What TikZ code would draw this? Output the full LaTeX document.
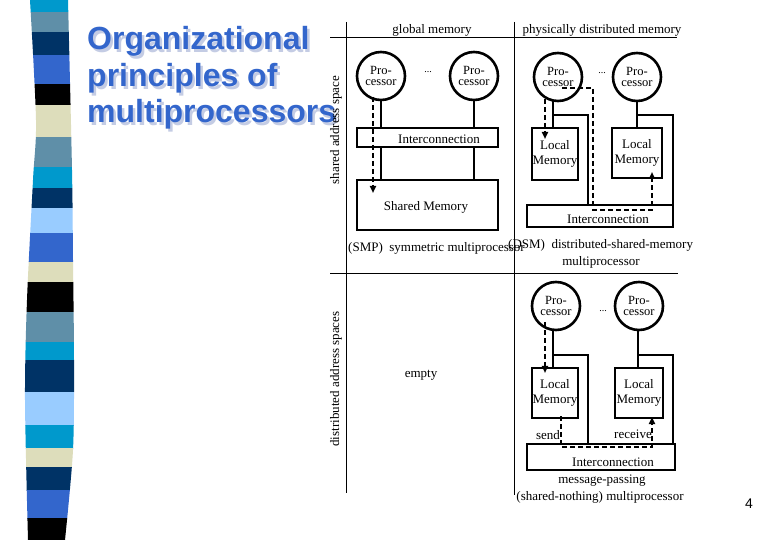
\documentclass[tikz,border=0pt]{standalone}
\usepackage{fontspec}
\setmainfont{Liberation Serif}
\newfontfamily\titlefont{Liberation Sans}
\usetikzlibrary{arrows.meta,calc}
\definecolor{cCyan}{HTML}{0099CC}
\definecolor{cSteel}{HTML}{5F8FA8}
\definecolor{cNavy}{HTML}{003366}
\definecolor{cRoyal}{HTML}{3366CC}
\definecolor{cBeige}{HTML}{DDDDBB}
\definecolor{cLight}{HTML}{99CCFF}
\definecolor{cTitle}{HTML}{3366CC}
\definecolor{cShadow}{HTML}{C4CCE4}
\newcommand\myshadowtext[1]{\makebox[0pt][l]{\hspace{2.5pt}\raisebox{-2.5pt}{\textcolor{cShadow}{#1}}}\textcolor{cTitle}{#1}}
\begin{document}
\begin{tikzpicture}[x=1pt,y=-1pt,font=\fontsize{13}{13}\selectfont,
  proc/.style={circle,draw,fill=white,line width=2.6pt,minimum size=48pt,inner sep=0pt,align=center,font=\fontsize{12.5}{11}\selectfont},
  membox/.style={draw,fill=white,line width=2.6pt,inner sep=0pt,align=center,font=\fontsize{13}{15}\selectfont},
  icbox/.style={draw,fill=white,line width=2.6pt,inner sep=0pt},
  thickl/.style={line width=2.8pt},
  thinl/.style={line width=1.6pt},
  dasharr/.style={line width=1.8pt,dash pattern=on 5pt off 3pt,-{Triangle[length=7pt,width=6pt]}},
  rulel/.style={line width=1pt},
  titletext/.style={anchor=base west,inner sep=0pt,font=\titlefont\bfseries\fontsize{32}{32}\selectfont},
  dotsl/.style={font=\fontsize{10}{10}\selectfont}
]
\useasboundingbox (0,0) rectangle (780,540);
\fill[white] (0,0) rectangle (780,540);
% decorative stripe
\begin{scope}
\clip plot[smooth] coordinates {(30,0) (36,120) (33,180) (27,300) (25,400) (28,540)}
  -- plot[smooth] coordinates {(65,540) (73,450) (74,360) (73,260) (72,170) (68,0)} -- cycle;
\foreach \ya/\yb/\c in {0/12/cCyan,12/32/cSteel,32/55/cNavy,55/84/cRoyal,84/105/black,105/137/cBeige,137/167/cSteel,167/188/cCyan,188/208/cNavy,208/233/cLight,233/262/cRoyal,262/282/cBeige,282/312/black,312/342/cSteel,342/360/cCyan,360/392/cNavy,392/425/cLight,425/448/cCyan,448/467/cBeige,467/490/cNavy,490/518/cRoyal,518/540/black}
  \fill[\c] (15,\ya) rectangle (85,\yb+0.5);
\end{scope}
% title
\node[titletext] (t1) at (87,50) {\myshadowtext{Organizational}};
\node[titletext] (t2) at (87,87) {\myshadowtext{principles of}};
\node[titletext] (t3) at (87,123) {\myshadowtext{multiprocessors}};
% rules
\coordinate (v1t) at (346,22); \coordinate (v1b) at (346,493);
\coordinate (v2t) at (514,22); \coordinate (v2b) at (514,495);
\coordinate (h1l) at (330,38); \coordinate (h1r) at (677,38);
\coordinate (h2l) at (330,274); \coordinate (h2r) at (678,274);
\draw[rulel] (v1t) -- (v1b);
\draw[rulel] (v2t) -- (v2b);
\draw[rulel] (h1l) -- (h1r);
\draw[rulel] (h2l) -- (h2r);
% headings
\node (hg) at (432,30) {global memory};
\node (hp) at (602,30) {physically distributed memory};
\node[rotate=90] (hs) at (336,130) {shared address space};
\node[rotate=90] (hd) at (336,379) {distributed address spaces};
\node[anchor=west,inner sep=0] (smp) at (348,248) {(SMP)\enspace symmetric multiprocessor};
\node[anchor=west,inner sep=0] (dsm) at (508,245) {(DSM)\enspace distributed-shared-memory};
\node (dsm2) at (601,262) {multiprocessor};
\node (empty) at (421,375) {empty};
\node (mp1) at (602,481) {message-passing};
\node (mp2) at (600,497) {(shared-nothing) multiprocessor};
\node[font=\titlefont\fontsize{14}{14}\selectfont] (pg) at (749,504) {4};

% ---------- SMP ----------
\coordinate (s1) at (381,76);
\draw[thickl] (s1) -- (s1 |- 0,180);
\draw[thinl] (474,76) -- (474,180);
\node[icbox,line width=1.8pt,minimum width=141pt,minimum height=19pt] (ic1) at (427.5,137.5) {};
\node (ic1t) at (439,139) {Interconnection};
\node[membox,minimum width=141pt,minimum height=50pt] (sm) at (427.5,205) {};
\node (smt) at (426,207) {Shared Memory};
\node[proc] (p1) at (381,76) {Pro-\\cessor};
\node[proc] (p2) at (474,76) {Pro-\\cessor};
\node[dotsl] (d1) at (428,72) {...};
\coordinate (a1s) at (373,97);
\coordinate (a1e) at (373,193);
\draw[dasharr] (a1s) -- (a1e);

% ---------- DSM ----------
\coordinate (j1) at (553,115);
\coordinate (j2) at (637,115);
\draw[thickl] (553,90) -- (553,128);
\draw[thickl] (637,90) -- (637,128);
\draw[thinl] (j1) -- (588,115) -- (588,205);
\draw[thickl] (j2) -- (673,115) -- (673,206);
\node[icbox,minimum width=146pt,minimum height=22pt] (ic2) at (600,216) {};
\node (ic2t) at (608,219) {Interconnection};
\node[membox,minimum width=46pt,minimum height=52pt] (lm1) at (555,154) {Local\\Memory};
\node[membox,minimum width=50pt,minimum height=50pt] (lm2) at (637,153) {Local\\Memory};
\node[proc] (p3) at (558,77) {Pro-\\cessor};
\node[proc] (p4) at (637,77) {Pro-\\cessor};
\node[dotsl] (d2) at (602,73) {...};
\coordinate (a2s) at (545,99);
\coordinate (a2e) at (545,139);
\draw[dasharr] (a2s) -- (a2e);
\coordinate (a3s) at (562,88);
\coordinate (a3m) at (593,210);
\coordinate (a3e) at (652,172);
\draw[dasharr] (a3s) -| (a3m) -| (a3e);

% ---------- message passing ----------
\coordinate (j3) at (553,355);
\coordinate (j4) at (638,355);
\draw[thickl] (553,330) -- (553,368);
\draw[thickl] (638,330) -- (638,368);
\draw[thinl] (j3) -- (588,355) -- (588,444);
\draw[thinl] (j4) -- (673,355) -- (673,444);
\node[icbox,minimum width=148pt,minimum height=26pt] (ic3) at (601,457) {};
\node (ic3t) at (613,462) {Interconnection};
\node[membox,minimum width=46pt,minimum height=50pt] (lm3) at (555,393) {Local\\Memory};
\node[membox,minimum width=48pt,minimum height=50pt] (lm4) at (639,393) {Local\\Memory};
\node[proc] (p5) at (556,306) {Pro-\\cessor};
\node[proc] (p6) at (639,306) {Pro-\\cessor};
\node[dotsl] (d3) at (603,311) {...};
\coordinate (a4s) at (545,322);
\coordinate (a4e) at (545,373);
\draw[dasharr] (a4s) -- (a4e);
\coordinate (a5s) at (561,416);
\coordinate (a5m) at (652,447);
\coordinate (a5e) at (652,417);
\draw[dasharr] (a5s) |- (a5m) -- (a5e);
\node (send) at (548,435) {send};
\node (recv) at (633,434) {receive};
\end{tikzpicture}
\end{document}
